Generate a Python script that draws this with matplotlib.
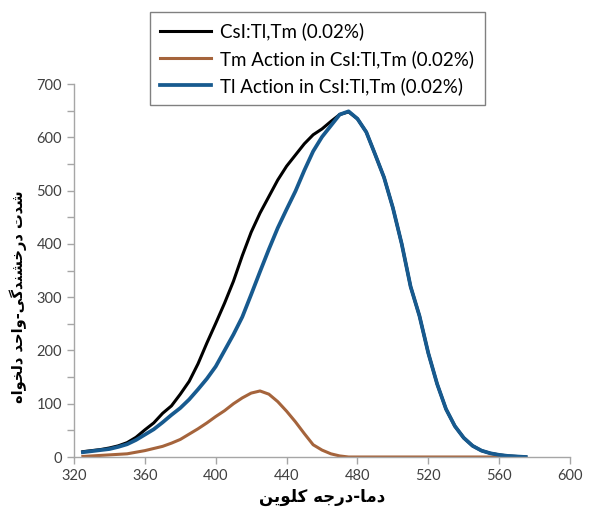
import matplotlib
matplotlib.use('Agg')
import matplotlib.pyplot as plt
from matplotlib.ticker import MultipleLocator

# temperature (K)
temp = [325, 330, 335, 340, 345, 350, 355, 360, 365, 370, 375, 380, 385, 390,
        395, 400, 405, 410, 415, 420, 425, 430, 435, 440, 445, 450, 455, 460,
        465, 470, 475, 480, 485, 490, 495, 500, 505, 510, 515, 520, 525, 530,
        535, 540, 545, 550, 555, 560, 565, 570, 575]

# total glow curve
csi_total = [10, 12, 14, 17, 21, 27, 37, 51, 64, 82, 96, 118, 142, 175,
             214, 251, 289, 330, 378, 422, 458, 489, 520, 546, 567, 588, 605, 616,
             630, 643, 648, 635, 610, 568, 525, 468, 400, 320, 265, 195, 137, 90,
             58, 36, 21, 12, 7, 4, 2, 1, 0]

# Tm contribution
tm_part = [1, 2, 3, 4, 5, 6, 9, 12, 16, 20, 26, 33, 43, 53,
           64, 76, 87, 100, 111, 120, 124, 118, 104, 86, 66, 44, 23, 13,
           6, 2, 0, 0, 0, 0, 0, 0, 0, 0, 0, 0, 0, 0,
           0, 0, 0, 0, 0, 0]

# Tl contribution
tl_part = [9, 11, 13, 15, 19, 24, 32, 42, 52, 65, 79, 92, 108, 127,
           147, 170, 200, 230, 263, 305, 348, 390, 430, 465, 499, 538, 574, 601,
           622, 643, 649, 635, 610, 568, 525, 468, 400, 320, 265, 195, 137, 90,
           58, 36, 21, 12, 7, 4, 2, 1, 0]

labels = ['CsI:Tl,Tm (0.02%)',
          'Tm Action in CsI:Tl,Tm (0.02%)',
          'Tl Action in CsI:Tl,Tm (0.02%)']

x_title = 'دما-درجه کلوین'
y_title = 'شدت درخشندگی-واحد دلخواه'

# contextual forms: isolated, final, initial, medial
FORMS = {
    'ا': ('\uFE8D', '\uFE8E'), 'د': ('\uFEA9', '\uFEAA'),
    'ر': ('\uFEAD', '\uFEAE'), 'و': ('\uFEED', '\uFEEE'),
    'ه': ('\uFEE9', '\uFEEA', '\uFEEB', '\uFEEC'),
    'م': ('\uFEE1', '\uFEE2', '\uFEE3', '\uFEE4'),
    'ج': ('\uFE9D', '\uFE9E', '\uFE9F', '\uFEA0'),
    'ک': ('\uFB8E', '\uFB8F', '\uFB90', '\uFB91'),
    'ل': ('\uFEDD', '\uFEDE', '\uFEDF', '\uFEE0'),
    'ی': ('\uFBFC', '\uFBFD', '\uFBFE', '\uFBFF'),
    'ن': ('\uFEE5', '\uFEE6', '\uFEE7', '\uFEE8'),
    'ش': ('\uFEB5', '\uFEB6', '\uFEB7', '\uFEB8'),
    'ت': ('\uFE95', '\uFE96', '\uFE97', '\uFE98'),
    'خ': ('\uFEA5', '\uFEA6', '\uFEA7', '\uFEA8'),
    'گ': ('\uFB92', '\uFB93', '\uFB94', '\uFB95'),
    'ح': ('\uFEA1', '\uFEA2', '\uFEA3', '\uFEA4'),
}


def rtl(text):
    # pick joined letter forms, then lay the line out right to left
    out = []
    for i, ch in enumerate(text):
        if ch not in FORMS:
            out.append(ch)
            continue
        f = FORMS[ch]
        prev = i > 0 and text[i - 1] in FORMS and len(FORMS[text[i - 1]]) == 4
        nxt = len(f) == 4 and i < len(text) - 1 and text[i + 1] in FORMS
        if prev and nxt:
            out.append(f[3])
        elif prev:
            out.append(f[1])
        elif nxt:
            out.append(f[2])
        else:
            out.append(f[0])
    return ''.join(reversed(out))


plt.rcParams['font.family'] = ['Lato', 'DejaVu Sans']

fig = plt.figure(figsize=(5.95, 5.07), dpi=100)
ax = fig.add_axes([0.1244, 0.0986, 0.8336, 0.7354])

l1, = ax.plot(temp, csi_total, color='black', lw=2.2)
l2, = ax.plot(temp[:len(tm_part)], tm_part, color='#a5643c', lw=2.2)
l3, = ax.plot(temp, tl_part, color='#175a8f', lw=2.7)

ax.set_xlim(320, 600)
ax.set_ylim(0, 700)
ax.xaxis.set_major_locator(MultipleLocator(40))
ax.yaxis.set_major_locator(MultipleLocator(100))
ax.yaxis.set_minor_locator(MultipleLocator(50))

for s in ['top', 'right']:
    ax.spines[s].set_visible(False)
for s in ['left', 'bottom']:
    ax.spines[s].set_color('#a6a6a6')
    ax.spines[s].set_linewidth(1.0)
ax.tick_params(which='both', colors='#a6a6a6', labelcolor='#404040',
               labelsize=10.5, length=5, width=1)

ax.set_xlabel(rtl(x_title), family=['DejaVu Sans'], fontweight='bold',
              fontsize=12, labelpad=4)
ax.set_ylabel(rtl(y_title), family=['DejaVu Sans'], fontweight='bold',
              fontsize=10.5)
ax.yaxis.set_label_coords(-0.095, 0.43)

leg = fig.legend([l1, l2, l3], labels, loc='upper left',
                 bbox_to_anchor=(0.252, 0.976), borderaxespad=0,
                 fontsize=13.5, handlelength=2.7, handletextpad=0.5,
                 labelspacing=0.5, borderpad=0.55, fancybox=False,
                 edgecolor='#808080', framealpha=1)
leg.get_frame().set_linewidth(1.0)

fig.savefig('out.png', dpi=100)
